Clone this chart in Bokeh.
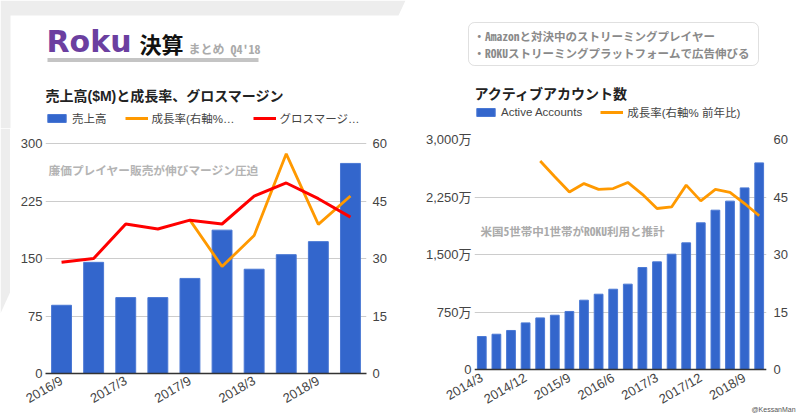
import math
from bokeh.plotting import figure
from bokeh.models import (Range1d, LinearAxis, FixedTicker, Label, Legend,
                          LegendItem, BoxAnnotation, ColumnDataSource, Span)
from bokeh.layouts import column, row
from bokeh.embed import file_html
from bokeh.resources import INLINE

nan = float("nan")

# ---------------- data: revenue chart ----------------
rev_quarters = ["2016/9", "2016/12", "2017/3", "2017/6", "2017/9",
                "2017/12", "2018/3", "2018/6", "2018/9", "2018/12"]
revenue = [89, 145, 99, 99, 124, 187, 136, 155, 172, 274]          # $M
rev_growth = [nan, nan, nan, nan, 40.0, 27.9, 36.0, 57.3, 38.9, 46.3]  # % YoY
gross_margin = [29.0, 30.0, 39.0, 37.7, 40.0, 39.0, 46.3, 49.7, 45.6, 40.8]
rev_left_ticks = [0, 75, 150, 225, 300]
rev_right_ticks = [0, 15, 30, 45, 60]
rev_label_every = 2

# ---------------- data: active accounts chart ----------------
acc_quarters = ["2014/3", "2014/6", "2014/9", "2014/12",
                "2015/3", "2015/6", "2015/9", "2015/12",
                "2016/3", "2016/6", "2016/9", "2016/12",
                "2017/3", "2017/6", "2017/9", "2017/12",
                "2018/3", "2018/6", "2018/9", "2018/12"]
accounts = [430, 460, 509, 608, 673, 708, 757, 904, 982, 1047,
            1113, 1330, 1404, 1504, 1652, 1913, 2078, 2196, 2369, 2695]  # 万
acc_growth = [nan, nan, nan, nan, 54.4, 50.3, 46.3, 48.5, 47.0, 47.2,
              48.8, 45.7, 42.0, 42.4, 48.1, 44.0, 47.0, 46.2, 43.3, 40.1]
acc_left_ticks = [0, 750, 1500, 2250, 3000]
acc_left_labels = ["0", "750万", "1,500万", "2,250万", "3,000万"]
acc_right_ticks = [0, 15, 30, 45, 60]
acc_label_every = 3

# ---------------- style ----------------
SANS = "Liberation Sans, Noto Sans CJK JP"
GOTH = "Noto Sans CJK JP"
MONO = "Noto Sans Mono CJK JP, Noto Sans CJK JP"
BLUE = "#3366cc"
BAR_EDGE = "#4a78d4"
ORANGE = "#ff9900"
RED = "#ff0000"
TICK_COLOR = "#444444"
BG_GRAY = "#ededed"

W, H_HDR = 800, 128
H_CH = 419 - H_HDR
# both chart frames span page rows 139..373; each chart's value range is
# stretched so that its own top/bottom ticks land where the reference has them
FRAME_TOP, FRAME_BOT = 139, 373


def stretched(lo, hi, px_lo, px_hi):
    per_px = (hi - lo) / (px_lo - px_hi)
    return Range1d(lo - (FRAME_BOT - px_lo) * per_px, hi + (px_hi - FRAME_TOP) * per_px)


def style_yaxis(ax, standoff):
    ax.axis_line_color = None
    ax.major_tick_line_color = None
    ax.minor_tick_line_color = None
    ax.major_tick_out = 0
    ax.major_tick_in = 0
    ax.major_label_standoff = standoff
    ax.major_label_text_font_size = "13px"
    ax.major_label_text_font = SANS
    ax.major_label_text_color = TICK_COLOR


def style_xaxis(ax, ticks, labels, standoff, line=True):
    ax.ticker = FixedTicker(ticks=ticks)
    ax.major_label_overrides = labels
    ax.major_label_orientation = math.pi / 6
    ax.axis_line_color = "#333333" if line else None
    ax.axis_line_width = 1.5
    ax.major_tick_line_color = None
    ax.minor_tick_line_color = None
    ax.major_tick_out = 0
    ax.major_tick_in = 0
    ax.major_label_standoff = standoff
    ax.major_label_text_font_size = "13px"
    ax.major_label_text_font = SANS
    ax.major_label_text_color = TICK_COLOR


def label(p, x, y, text, size, color, font, bold=False, baseline="middle", units="data"):
    p.add_layout(Label(x=x, y=y, x_units=units, y_units=units, text=text,
                       text_font_size=size, text_color=color, text_font=font,
                       text_font_style="bold" if bold else "normal",
                       text_baseline=baseline))


def Y(page_y):
    # header uses page-like pixel positions (y measured from the top)
    return H_HDR - page_y


def bare(p):
    p.axis.visible = False
    p.grid.visible = False
    p.outline_line_color = None
    p.background_fill_alpha = 0
    p.border_fill_alpha = 0


# ---------------- header (title block, chart titles, legends) ----------------
hdr = figure(width=W, height=H_HDR, x_range=Range1d(0, W), y_range=Range1d(0, H_HDR),
             toolbar_location=None, output_backend="svg", min_border=0)
bare(hdr)
hdr.patch([0, 405, 398, 10, 10, 0], [Y(0), Y(0), Y(15), Y(15), Y(128), Y(128)],
          fill_color=BG_GRAY, line_color=None)
label(hdr, 46, Y(41), "Roku", "30px", "#6b3fa0", "DejaVu Sans", bold=True)
label(hdr, 139, Y(42.5), "決算", "22px", "#111111", GOTH, bold=True)
label(hdr, 188, Y(47.5), "まとめ Q4'18", "12px", "#aaaaaa", MONO, bold=True)
hdr.quad(left=[47], right=[258], top=[Y(57.5)], bottom=[Y(61.5)], fill_color="#c4c4c4", line_color=None)
hdr.add_layout(BoxAnnotation(left=468, right=758, top=Y(22), bottom=Y(65), fill_alpha=0,
                             line_color="#999999", line_width=1, border_radius=6))
label(hdr, 473, Y(35), "・Amazonと対決中のストリーミングプレイヤー", "11.5px", "#8a8a8a", MONO, bold=True)
label(hdr, 473, Y(52), "・ROKUストリーミングプラットフォームで広告伸びる", "11.5px", "#8a8a8a", MONO, bold=True)

label(hdr, 45, Y(95.5), "売上高($M)と成長率、グロスマージン", "14px", "#222222", SANS, bold=True)
label(hdr, 474, Y(93), "アクティブアカウント数", "14px", "#222222", SANS, bold=True)

# legend swatches: renderers styled like the chart series, holding one point far off-canvas
off = ColumnDataSource(dict(x=[-1000, -999], y=[-1000, -1000]))
lg_bar = hdr.vbar(x="x", top="y", width=0.6, source=off, fill_color=BLUE, line_color=BAR_EDGE)
lg_or = hdr.line(x="x", y="y", source=off, line_color=ORANGE, line_width=3)
lg_rd = hdr.line(x="x", y="y", source=off, line_color=RED, line_width=3)

LEG_STYLE = dict(orientation="horizontal", glyph_width=23, glyph_height=10,
                 label_height=10, label_standoff=4, spacing=18, padding=0, margin=0,
                 border_line_color=None, background_fill_alpha=0,
                 label_text_font_size="11.5px", label_text_font=SANS, label_text_color="#444444")
hdr.add_layout(Legend(items=[LegendItem(label="売上高", renderers=[lg_bar]),
                             LegendItem(label="成長率(右軸%…", renderers=[lg_or]),
                             LegendItem(label="グロスマージ…", renderers=[lg_rd])],
                      location=(45, Y(126)), **LEG_STYLE))
hdr.add_layout(Legend(items=[LegendItem(label="Active Accounts", renderers=[lg_bar]),
                             LegendItem(label="成長率(右軸% 前年比)", renderers=[lg_or])],
                      location=(474, Y(120)), **LEG_STYLE))

# ---------------- left chart: revenue ----------------
src_l = ColumnDataSource(dict(x=list(range(len(rev_quarters))), rev=revenue,
                              growth=rev_growth, gm=gross_margin))
pL = figure(width=400, height=H_CH, x_range=Range1d(-0.5, len(rev_quarters) - 0.5),
            y_range=stretched(rev_left_ticks[0], rev_left_ticks[-1], 373, 143),
            toolbar_location=None, output_backend="svg",
            min_border_left=45, min_border_right=34,
            min_border_top=FRAME_TOP - H_HDR, min_border_bottom=419 - FRAME_BOT)
pL.extra_y_ranges = {"pct": stretched(rev_right_ticks[0], rev_right_ticks[-1], 373, 143)}
pL.outline_line_color = None
pL.xgrid.visible = False
pL.ygrid.grid_line_color = "#cccccc"
pL.yaxis.ticker = FixedTicker(ticks=rev_left_ticks)
style_yaxis(pL.yaxis[0], 3)
rL = LinearAxis(y_range_name="pct", ticker=FixedTicker(ticks=rev_right_ticks))
style_yaxis(rL, 6)
pL.add_layout(rL, "right")
style_xaxis(pL.xaxis[0], list(range(0, len(rev_quarters), rev_label_every)),
            {i: rev_quarters[i] for i in range(0, len(rev_quarters), rev_label_every)}, 6)

pL.vbar(x="x", top="rev", width=0.62, source=src_l, fill_color=BLUE, line_color=BAR_EDGE)
pL.line(x="x", y="growth", source=src_l, line_color=ORANGE, line_width=2.8, y_range_name="pct")
pL.line(x="x", y="gm", source=src_l, line_color=RED, line_width=3, y_range_name="pct")
label(pL, 3, FRAME_BOT - 169, "廉価プレイヤー販売が伸びマージン圧迫", "11.7px", "#b4b4b4", GOTH,
      bold=True, units="screen")

# ---------------- right chart: active accounts ----------------
src_r = ColumnDataSource(dict(x=list(range(len(acc_quarters))), acc=accounts, growth=acc_growth))
pR = figure(width=400, height=H_CH, x_range=Range1d(-0.5, len(acc_quarters) - 0.5),
            y_range=stretched(acc_left_ticks[0], acc_left_ticks[-1], 369, 139),
            toolbar_location=None, output_backend="svg",
            min_border_left=74, min_border_right=34,
            min_border_top=FRAME_TOP - H_HDR, min_border_bottom=419 - FRAME_BOT)
pR.extra_y_ranges = {"pct": stretched(acc_right_ticks[0], acc_right_ticks[-1], 369, 139)}
pR.outline_line_color = None
pR.xgrid.visible = False
pR.ygrid.grid_line_color = "#cccccc"
pR.yaxis.ticker = FixedTicker(ticks=acc_left_ticks)
pR.yaxis.major_label_overrides = dict(zip(acc_left_ticks, acc_left_labels))
style_yaxis(pR.yaxis[0], 3)
rR = LinearAxis(y_range_name="pct", ticker=FixedTicker(ticks=acc_right_ticks))
style_yaxis(rR, 7)
pR.add_layout(rR, "right")
style_xaxis(pR.xaxis[0], list(range(0, len(acc_quarters), acc_label_every)),
            {i: acc_quarters[i] for i in range(0, len(acc_quarters), acc_label_every)}, 3,
            line=False)
pR.add_layout(Span(location=acc_left_ticks[0], dimension="width", line_color="#333333", line_width=1.5))

pR.vbar(x="x", top="acc", width=0.6, source=src_r, fill_color=BLUE, line_color=BAR_EDGE)
pR.line(x="x", y="growth", source=src_r, line_color=ORANGE, line_width=2.8, y_range_name="pct")
label(pR, 6, FRAME_BOT - 230, "米国5世帯中1世帯がROKU利用と推計", "11.5px", "#aaaaaa", MONO,
      bold=True, units="screen")

# ---------------- small credit, overlaid at the bottom-right ----------------
credit = figure(width=50, height=14, x_range=Range1d(0, 50), y_range=Range1d(0, 14),
                toolbar_location=None, output_backend="svg", min_border=0,
                styles={"position": "absolute", "left": "750px", "top": "399px"})
bare(credit)
label(credit, 1, 4.5, "@KessanMan", "7px", "#555555", SANS)

# ---------------- grey page edge continuing down the left side ----------------
edge = figure(width=10, height=185, x_range=Range1d(0, 10), y_range=Range1d(0, 185),
              toolbar_location=None, output_backend="svg", min_border=0,
              styles={"position": "absolute", "left": "0px", "top": "128px"})
bare(edge)
edge.patch([0, 10, 10, 0], [185, 185, 22, 0], fill_color=BG_GRAY, line_color=None)

layout = column(hdr, row(pL, pR), credit, edge)
open("out.html", "w").write(file_html(layout, INLINE))
